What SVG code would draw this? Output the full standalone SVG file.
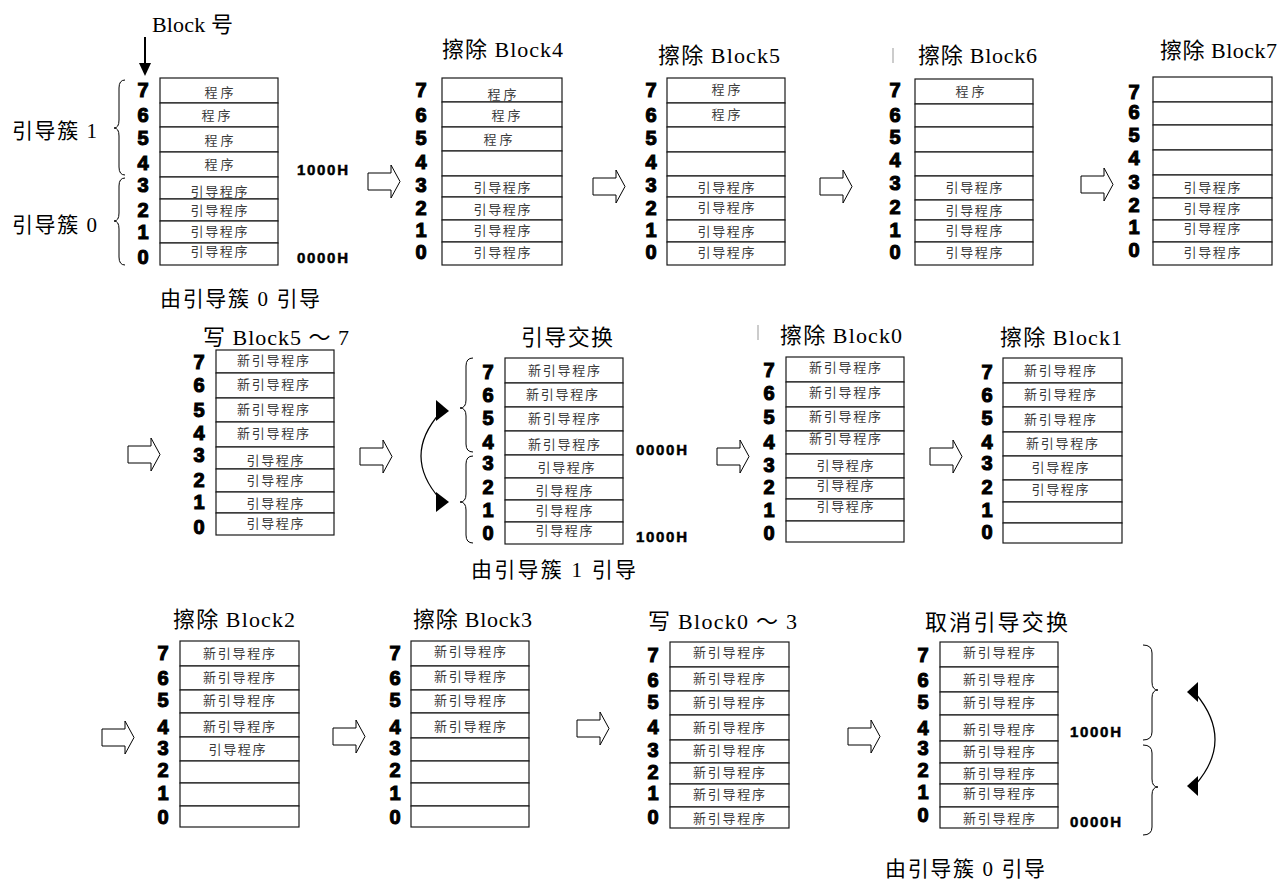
<svg xmlns="http://www.w3.org/2000/svg" width="1283" height="882" viewBox="0 0 1283 882">
<style>
.box{fill:#fff;stroke:#1a1a1a;stroke-width:1.2}
.num{font-family:"Liberation Sans",Arial,sans-serif;font-weight:bold;font-size:20px;text-anchor:middle;fill:#000;stroke:#000;stroke-width:1.1}
.cell{font-family:"Noto Sans CJK SC",sans-serif;font-size:13px;fill:#3a3a3a;text-anchor:middle}
.title{font-family:"Liberation Serif","Noto Sans CJK SC",serif;font-size:22px;fill:#000}
.lbl{font-family:"Liberation Serif","Noto Sans CJK SC",serif;font-size:21px;fill:#000}
.addr{font-family:"Liberation Sans",Arial,sans-serif;font-weight:bold;font-size:15px;fill:#000;stroke:#000;stroke-width:0.5}
.harrow{fill:#fff;stroke:#000;stroke-width:1}
.brace{fill:none;stroke:#000;stroke-width:1}
.curve{fill:none;stroke:#000;stroke-width:1.2}
.tick{stroke:#bbb;stroke-width:1.5}
</style>
<defs>
<path id="ha" class="harrow" d="M0,8 H23 V0 L32,16.5 L23,33 V25 H0 Z"/>
</defs>

<g id="connectors">
<line x1="145" y1="37" x2="145" y2="64" stroke="#000" stroke-width="2"/>
<polygon points="139,63 151,63 145,76" fill="#000"/>
<use href="#ha" x="368" y="165"/>
<use href="#ha" x="593" y="170"/>
<use href="#ha" x="820" y="170"/>
<use href="#ha" x="1081" y="168"/>
<use href="#ha" x="128" y="438"/>
<use href="#ha" x="360" y="440"/>
<use href="#ha" x="717" y="440"/>
<use href="#ha" x="930" y="440"/>
<use href="#ha" x="102" y="721"/>
<use href="#ha" x="333" y="720"/>
<use href="#ha" x="577" y="712"/>
<use href="#ha" x="848" y="720"/>
<path class="curve" d="M440,413 Q402,456 440,499"/>
<polygon points="436,400 449,411 436,421" fill="#000"/>
<polygon points="436,492 449,502 436,512" fill="#000"/>
<path class="curve" d="M1196,694 Q1234,740 1196,784"/>
<polygon points="1198,682 1187,692 1198,702" fill="#000"/>
<polygon points="1198,776 1187,786 1198,796" fill="#000"/>
</g>

<g id="labels">
<text class="title" x="152" y="32" textLength="81">Block 号</text>
<text class="lbl" x="12" y="138" textLength="85">引导簇 1</text>
<text class="lbl" x="12" y="232" textLength="85">引导簇 0</text>
<path class="brace" d="M125,80 Q119,80 119,88 V120 Q119,128 114,128 Q119,128 119,136 V167 Q119,175 125,175"/>
<path class="brace" d="M125,178 Q119,178 119,186 V213 Q119,221 114,221 Q119,221 119,229 V257 Q119,265 125,265"/>
<text class="lbl" x="160" y="306" textLength="160">由引导簇 0 引导</text>
<text class="lbl" x="471" y="577" textLength="165">由引导簇 1 引导</text>
<text class="lbl" x="885" y="876" textLength="160">由引导簇 0 引导</text>
<line class="tick" x1="893" y1="48" x2="893" y2="63"/>
<line class="tick" x1="758" y1="325" x2="758" y2="340"/>
</g>

<g id="d1">
<rect class="box" x="160" y="78" width="118" height="25"/>
<rect class="box" x="160" y="103" width="118" height="24"/>
<rect class="box" x="160" y="127" width="118" height="25"/>
<rect class="box" x="160" y="152" width="118" height="25"/>
<rect class="box" x="160" y="177" width="118" height="22"/>
<rect class="box" x="160" y="199" width="118" height="22"/>
<rect class="box" x="160" y="221" width="118" height="22"/>
<rect class="box" x="160" y="243" width="118" height="22"/>
<text class="cell" x="219" y="97" textLength="29">程序</text>
<text class="cell" x="216" y="120" textLength="29">程序</text>
<text class="cell" x="219" y="145" textLength="29">程序</text>
<text class="cell" x="219" y="169" textLength="29">程序</text>
<text class="cell" x="219" y="196" textLength="57">引导程序</text>
<text class="cell" x="219" y="215" textLength="57">引导程序</text>
<text class="cell" x="219" y="236" textLength="57">引导程序</text>
<text class="cell" x="219" y="256" textLength="57">引导程序</text>
<text class="num" x="143" y="97" textLength="9">7</text>
<text class="num" x="143" y="122" textLength="9">6</text>
<text class="num" x="143" y="145" textLength="9">5</text>
<text class="num" x="143" y="170" textLength="9">4</text>
<text class="num" x="143" y="192" textLength="9">3</text>
<text class="num" x="143" y="217" textLength="9">2</text>
<text class="num" x="143" y="239" textLength="9">1</text>
<text class="num" x="143" y="264" textLength="9">0</text>
<text class="addr" x="297" y="175" textLength="51">1000H</text>
<text class="addr" x="297" y="263" textLength="51">0000H</text>
</g>

<g id="d2">
<text class="title" x="442" y="57" textLength="121">擦除 Block4</text>
<rect class="box" x="442" y="78" width="120" height="24"/>
<rect class="box" x="442" y="102" width="120" height="25"/>
<rect class="box" x="442" y="127" width="120" height="24"/>
<rect class="box" x="442" y="151" width="120" height="25"/>
<rect class="box" x="442" y="176" width="120" height="21"/>
<rect class="box" x="442" y="197" width="120" height="23"/>
<rect class="box" x="442" y="220" width="120" height="22"/>
<rect class="box" x="442" y="242" width="120" height="23"/>
<text class="cell" x="502" y="99" textLength="29">程序</text>
<text class="cell" x="506" y="120" textLength="29">程序</text>
<text class="cell" x="498" y="144" textLength="29">程序</text>
<text class="cell" x="502" y="192" textLength="57">引导程序</text>
<text class="cell" x="502" y="214" textLength="57">引导程序</text>
<text class="cell" x="502" y="235" textLength="57">引导程序</text>
<text class="cell" x="502" y="257" textLength="57">引导程序</text>
<text class="num" x="421" y="97" textLength="9">7</text>
<text class="num" x="421" y="122" textLength="9">6</text>
<text class="num" x="421" y="145" textLength="9">5</text>
<text class="num" x="421" y="169" textLength="9">4</text>
<text class="num" x="421" y="192" textLength="9">3</text>
<text class="num" x="421" y="215" textLength="9">2</text>
<text class="num" x="421" y="237" textLength="9">1</text>
<text class="num" x="421" y="259" textLength="9">0</text>
</g>

<g id="d3">
<text class="title" x="658" y="63" textLength="122">擦除 Block5</text>
<rect class="box" x="667" y="78" width="118" height="25"/>
<rect class="box" x="667" y="103" width="118" height="24"/>
<rect class="box" x="667" y="127" width="118" height="25"/>
<rect class="box" x="667" y="152" width="118" height="24"/>
<rect class="box" x="667" y="176" width="118" height="21"/>
<rect class="box" x="667" y="197" width="118" height="23"/>
<rect class="box" x="667" y="220" width="118" height="22"/>
<rect class="box" x="667" y="242" width="118" height="23"/>
<text class="cell" x="726" y="94" textLength="29">程序</text>
<text class="cell" x="726" y="119" textLength="29">程序</text>
<text class="cell" x="726" y="192" textLength="57">引导程序</text>
<text class="cell" x="726" y="212" textLength="57">引导程序</text>
<text class="cell" x="726" y="236" textLength="57">引导程序</text>
<text class="cell" x="726" y="257" textLength="57">引导程序</text>
<text class="num" x="651" y="97" textLength="9">7</text>
<text class="num" x="651" y="122" textLength="9">6</text>
<text class="num" x="651" y="145" textLength="9">5</text>
<text class="num" x="651" y="169" textLength="9">4</text>
<text class="num" x="651" y="192" textLength="9">3</text>
<text class="num" x="651" y="215" textLength="9">2</text>
<text class="num" x="651" y="237" textLength="9">1</text>
<text class="num" x="651" y="259" textLength="9">0</text>
</g>

<g id="d4">
<text class="title" x="918" y="63" textLength="119">擦除 Block6</text>
<rect class="box" x="915" y="79" width="118" height="25"/>
<rect class="box" x="915" y="104" width="118" height="23"/>
<rect class="box" x="915" y="127" width="118" height="25"/>
<rect class="box" x="915" y="152" width="118" height="24"/>
<rect class="box" x="915" y="176" width="118" height="24"/>
<rect class="box" x="915" y="200" width="118" height="20"/>
<rect class="box" x="915" y="220" width="118" height="22"/>
<rect class="box" x="915" y="242" width="118" height="23"/>
<text class="cell" x="970" y="96" textLength="29">程序</text>
<text class="cell" x="974" y="192" textLength="57">引导程序</text>
<text class="cell" x="974" y="215" textLength="57">引导程序</text>
<text class="cell" x="974" y="235" textLength="57">引导程序</text>
<text class="cell" x="974" y="257" textLength="57">引导程序</text>
<text class="num" x="895" y="97" textLength="9">7</text>
<text class="num" x="895" y="122" textLength="9">6</text>
<text class="num" x="895" y="144" textLength="9">5</text>
<text class="num" x="895" y="167" textLength="9">4</text>
<text class="num" x="895" y="190" textLength="9">3</text>
<text class="num" x="895" y="214" textLength="9">2</text>
<text class="num" x="895" y="237" textLength="9">1</text>
<text class="num" x="895" y="259" textLength="9">0</text>
</g>

<g id="d5">
<text class="title" x="1160" y="58" textLength="117">擦除 Block7</text>
<rect class="box" x="1153" y="77" width="119" height="25"/>
<rect class="box" x="1153" y="102" width="119" height="23"/>
<rect class="box" x="1153" y="125" width="119" height="25"/>
<rect class="box" x="1153" y="150" width="119" height="25"/>
<rect class="box" x="1153" y="175" width="119" height="23"/>
<rect class="box" x="1153" y="198" width="119" height="22"/>
<rect class="box" x="1153" y="220" width="119" height="22"/>
<rect class="box" x="1153" y="242" width="119" height="23"/>
<text class="cell" x="1212" y="192" textLength="57">引导程序</text>
<text class="cell" x="1212" y="213" textLength="57">引导程序</text>
<text class="cell" x="1212" y="233" textLength="57">引导程序</text>
<text class="cell" x="1212" y="257" textLength="57">引导程序</text>
<text class="num" x="1134" y="99" textLength="9">7</text>
<text class="num" x="1134" y="119" textLength="9">6</text>
<text class="num" x="1134" y="142" textLength="9">5</text>
<text class="num" x="1134" y="165" textLength="9">4</text>
<text class="num" x="1134" y="189" textLength="9">3</text>
<text class="num" x="1134" y="212" textLength="9">2</text>
<text class="num" x="1134" y="234" textLength="9">1</text>
<text class="num" x="1134" y="257" textLength="9">0</text>
</g>

<g id="d6">
<text class="title" x="203" y="345" textLength="146">写 Block5 ～ 7</text>
<rect class="box" x="216" y="350" width="118" height="23"/>
<rect class="box" x="216" y="373" width="118" height="25"/>
<rect class="box" x="216" y="398" width="118" height="24"/>
<rect class="box" x="216" y="422" width="118" height="25"/>
<rect class="box" x="216" y="447" width="118" height="22"/>
<rect class="box" x="216" y="469" width="118" height="23"/>
<rect class="box" x="216" y="492" width="118" height="21"/>
<rect class="box" x="216" y="513" width="118" height="22"/>
<text class="cell" x="273" y="365" textLength="72">新引导程序</text>
<text class="cell" x="273" y="389" textLength="72">新引导程序</text>
<text class="cell" x="273" y="414" textLength="72">新引导程序</text>
<text class="cell" x="273" y="438" textLength="72">新引导程序</text>
<text class="cell" x="275" y="465" textLength="57">引导程序</text>
<text class="cell" x="275" y="485" textLength="57">引导程序</text>
<text class="cell" x="275" y="508" textLength="57">引导程序</text>
<text class="cell" x="275" y="528" textLength="57">引导程序</text>
<text class="num" x="199" y="369" textLength="9">7</text>
<text class="num" x="199" y="392" textLength="9">6</text>
<text class="num" x="199" y="417" textLength="9">5</text>
<text class="num" x="199" y="440" textLength="9">4</text>
<text class="num" x="199" y="462" textLength="9">3</text>
<text class="num" x="199" y="487" textLength="9">2</text>
<text class="num" x="199" y="509" textLength="9">1</text>
<text class="num" x="199" y="534" textLength="9">0</text>
</g>

<g id="d7">
<text class="title" x="521" y="345" textLength="92">引导交换</text>
<path class="brace" d="M473,358 Q466,358 466,366 V400 Q466,408 460,408 Q466,408 466,416 V444 Q466,452 473,452"/>
<path class="brace" d="M473,456 Q466,456 466,464 V494 Q466,502 460,502 Q466,502 466,510 V535 Q466,543 473,543"/>
<rect class="box" x="505" y="358" width="118" height="25"/>
<rect class="box" x="505" y="383" width="118" height="24"/>
<rect class="box" x="505" y="407" width="118" height="24"/>
<rect class="box" x="505" y="431" width="118" height="24"/>
<rect class="box" x="505" y="455" width="118" height="23"/>
<rect class="box" x="505" y="478" width="118" height="22"/>
<rect class="box" x="505" y="500" width="118" height="22"/>
<rect class="box" x="505" y="522" width="118" height="22"/>
<text class="cell" x="564" y="375" textLength="72">新引导程序</text>
<text class="cell" x="562" y="399" textLength="72">新引导程序</text>
<text class="cell" x="564" y="423" textLength="72">新引导程序</text>
<text class="cell" x="564" y="449" textLength="72">新引导程序</text>
<text class="cell" x="566" y="472" textLength="57">引导程序</text>
<text class="cell" x="564" y="495" textLength="57">引导程序</text>
<text class="cell" x="564" y="515" textLength="57">引导程序</text>
<text class="cell" x="564" y="535" textLength="57">引导程序</text>
<text class="num" x="488" y="379" textLength="9">7</text>
<text class="num" x="488" y="402" textLength="9">6</text>
<text class="num" x="488" y="425" textLength="9">5</text>
<text class="num" x="488" y="449" textLength="9">4</text>
<text class="num" x="488" y="470" textLength="9">3</text>
<text class="num" x="488" y="494" textLength="9">2</text>
<text class="num" x="488" y="517" textLength="9">1</text>
<text class="num" x="488" y="540" textLength="9">0</text>
<text class="addr" x="636" y="455" textLength="51">0000H</text>
<text class="addr" x="636" y="542" textLength="51">1000H</text>
</g>

<g id="d8">
<text class="title" x="780" y="343" textLength="122">擦除 Block0</text>
<rect class="box" x="786" y="357" width="118" height="25"/>
<rect class="box" x="786" y="382" width="118" height="25"/>
<rect class="box" x="786" y="407" width="118" height="24"/>
<rect class="box" x="786" y="431" width="118" height="23"/>
<rect class="box" x="786" y="454" width="118" height="24"/>
<rect class="box" x="786" y="478" width="118" height="21"/>
<rect class="box" x="786" y="499" width="118" height="22"/>
<rect class="box" x="786" y="521" width="118" height="21"/>
<text class="cell" x="845" y="372" textLength="72">新引导程序</text>
<text class="cell" x="845" y="397" textLength="72">新引导程序</text>
<text class="cell" x="845" y="421" textLength="72">新引导程序</text>
<text class="cell" x="845" y="443" textLength="72">新引导程序</text>
<text class="cell" x="845" y="470" textLength="57">引导程序</text>
<text class="cell" x="845" y="490" textLength="57">引导程序</text>
<text class="cell" x="845" y="511" textLength="57">引导程序</text>
<text class="num" x="769" y="377" textLength="9">7</text>
<text class="num" x="769" y="400" textLength="9">6</text>
<text class="num" x="769" y="424" textLength="9">5</text>
<text class="num" x="769" y="449" textLength="9">4</text>
<text class="num" x="769" y="472" textLength="9">3</text>
<text class="num" x="769" y="494" textLength="9">2</text>
<text class="num" x="769" y="517" textLength="9">1</text>
<text class="num" x="769" y="540" textLength="9">0</text>
</g>

<g id="d9">
<text class="title" x="1000" y="345" textLength="122">擦除 Block1</text>
<rect class="box" x="1003" y="358" width="119" height="25"/>
<rect class="box" x="1003" y="383" width="119" height="24"/>
<rect class="box" x="1003" y="407" width="119" height="25"/>
<rect class="box" x="1003" y="432" width="119" height="24"/>
<rect class="box" x="1003" y="456" width="119" height="24"/>
<rect class="box" x="1003" y="480" width="119" height="22"/>
<rect class="box" x="1003" y="502" width="119" height="21"/>
<rect class="box" x="1003" y="523" width="119" height="20"/>
<text class="cell" x="1060" y="375" textLength="72">新引导程序</text>
<text class="cell" x="1060" y="399" textLength="72">新引导程序</text>
<text class="cell" x="1060" y="424" textLength="72">新引导程序</text>
<text class="cell" x="1062" y="448" textLength="72">新引导程序</text>
<text class="cell" x="1060" y="472" textLength="57">引导程序</text>
<text class="cell" x="1060" y="494" textLength="57">引导程序</text>
<text class="num" x="987" y="379" textLength="9">7</text>
<text class="num" x="987" y="402" textLength="9">6</text>
<text class="num" x="987" y="425" textLength="9">5</text>
<text class="num" x="987" y="449" textLength="9">4</text>
<text class="num" x="987" y="470" textLength="9">3</text>
<text class="num" x="987" y="494" textLength="9">2</text>
<text class="num" x="987" y="517" textLength="9">1</text>
<text class="num" x="987" y="539" textLength="9">0</text>
</g>

<g id="d10">
<text class="title" x="173" y="627" textLength="122">擦除 Block2</text>
<rect class="box" x="180" y="641" width="119" height="25"/>
<rect class="box" x="180" y="666" width="119" height="24"/>
<rect class="box" x="180" y="690" width="119" height="23"/>
<rect class="box" x="180" y="713" width="119" height="24"/>
<rect class="box" x="180" y="737" width="119" height="24"/>
<rect class="box" x="180" y="761" width="119" height="22"/>
<rect class="box" x="180" y="783" width="119" height="23"/>
<rect class="box" x="180" y="806" width="119" height="21"/>
<text class="cell" x="239" y="658" textLength="72">新引导程序</text>
<text class="cell" x="239" y="682" textLength="72">新引导程序</text>
<text class="cell" x="239" y="705" textLength="72">新引导程序</text>
<text class="cell" x="239" y="731" textLength="72">新引导程序</text>
<text class="cell" x="237" y="754" textLength="57">引导程序</text>
<text class="num" x="163" y="660" textLength="9">7</text>
<text class="num" x="163" y="685" textLength="9">6</text>
<text class="num" x="163" y="707" textLength="9">5</text>
<text class="num" x="163" y="734" textLength="9">4</text>
<text class="num" x="163" y="755" textLength="9">3</text>
<text class="num" x="163" y="777" textLength="9">2</text>
<text class="num" x="163" y="800" textLength="9">1</text>
<text class="num" x="163" y="824" textLength="9">0</text>
</g>

<g id="d11">
<text class="title" x="413" y="627" textLength="119">擦除 Block3</text>
<rect class="box" x="411" y="641" width="118" height="25"/>
<rect class="box" x="411" y="666" width="118" height="24"/>
<rect class="box" x="411" y="690" width="118" height="23"/>
<rect class="box" x="411" y="713" width="118" height="25"/>
<rect class="box" x="411" y="738" width="118" height="23"/>
<rect class="box" x="411" y="761" width="118" height="22"/>
<rect class="box" x="411" y="783" width="118" height="23"/>
<rect class="box" x="411" y="806" width="118" height="21"/>
<text class="cell" x="470" y="656" textLength="72">新引导程序</text>
<text class="cell" x="470" y="681" textLength="72">新引导程序</text>
<text class="cell" x="470" y="705" textLength="72">新引导程序</text>
<text class="cell" x="470" y="731" textLength="72">新引导程序</text>
<text class="num" x="395" y="660" textLength="9">7</text>
<text class="num" x="395" y="685" textLength="9">6</text>
<text class="num" x="395" y="707" textLength="9">5</text>
<text class="num" x="395" y="734" textLength="9">4</text>
<text class="num" x="395" y="755" textLength="9">3</text>
<text class="num" x="395" y="777" textLength="9">2</text>
<text class="num" x="395" y="800" textLength="9">1</text>
<text class="num" x="395" y="824" textLength="9">0</text>
</g>

<g id="d12">
<text class="title" x="648" y="629" textLength="149">写 Block0 ～ 3</text>
<rect class="box" x="670" y="642" width="119" height="25"/>
<rect class="box" x="670" y="667" width="119" height="24"/>
<rect class="box" x="670" y="691" width="119" height="24"/>
<rect class="box" x="670" y="715" width="119" height="25"/>
<rect class="box" x="670" y="740" width="119" height="23"/>
<rect class="box" x="670" y="763" width="119" height="21"/>
<rect class="box" x="670" y="784" width="119" height="23"/>
<rect class="box" x="670" y="807" width="119" height="21"/>
<text class="cell" x="729" y="657" textLength="72">新引导程序</text>
<text class="cell" x="729" y="683" textLength="72">新引导程序</text>
<text class="cell" x="729" y="707" textLength="72">新引导程序</text>
<text class="cell" x="729" y="732" textLength="72">新引导程序</text>
<text class="cell" x="729" y="755" textLength="72">新引导程序</text>
<text class="cell" x="729" y="777" textLength="72">新引导程序</text>
<text class="cell" x="729" y="799" textLength="72">新引导程序</text>
<text class="cell" x="729" y="823" textLength="72">新引导程序</text>
<text class="num" x="653" y="662" textLength="9">7</text>
<text class="num" x="653" y="687" textLength="9">6</text>
<text class="num" x="653" y="709" textLength="9">5</text>
<text class="num" x="653" y="734" textLength="9">4</text>
<text class="num" x="653" y="757" textLength="9">3</text>
<text class="num" x="653" y="779" textLength="9">2</text>
<text class="num" x="653" y="800" textLength="9">1</text>
<text class="num" x="653" y="824" textLength="9">0</text>
</g>

<g id="d13">
<text class="title" x="925" y="630" textLength="143">取消引导交换</text>
<rect class="box" x="940" y="642" width="118" height="25"/>
<rect class="box" x="940" y="667" width="118" height="25"/>
<rect class="box" x="940" y="692" width="118" height="23"/>
<rect class="box" x="940" y="715" width="118" height="26"/>
<rect class="box" x="940" y="741" width="118" height="22"/>
<rect class="box" x="940" y="763" width="118" height="21"/>
<rect class="box" x="940" y="784" width="118" height="23"/>
<rect class="box" x="940" y="807" width="118" height="21"/>
<text class="cell" x="999" y="657" textLength="72">新引导程序</text>
<text class="cell" x="999" y="684" textLength="72">新引导程序</text>
<text class="cell" x="999" y="707" textLength="72">新引导程序</text>
<text class="cell" x="999" y="734" textLength="72">新引导程序</text>
<text class="cell" x="999" y="756" textLength="72">新引导程序</text>
<text class="cell" x="999" y="778" textLength="72">新引导程序</text>
<text class="cell" x="999" y="798" textLength="72">新引导程序</text>
<text class="cell" x="999" y="823" textLength="72">新引导程序</text>
<text class="num" x="923" y="662" textLength="9">7</text>
<text class="num" x="923" y="687" textLength="9">6</text>
<text class="num" x="923" y="709" textLength="9">5</text>
<text class="num" x="923" y="735" textLength="9">4</text>
<text class="num" x="923" y="755" textLength="9">3</text>
<text class="num" x="923" y="777" textLength="9">2</text>
<text class="num" x="923" y="799" textLength="9">1</text>
<text class="num" x="923" y="822" textLength="9">0</text>
<text class="addr" x="1070" y="737" textLength="51">1000H</text>
<text class="addr" x="1070" y="827" textLength="51">0000H</text>
<path class="brace" d="M1143,645 Q1152,645 1152,653 V682 Q1152,690 1158,690 Q1152,690 1152,698 V732 Q1152,740 1143,740"/>
<path class="brace" d="M1143,745 Q1152,745 1152,753 V779 Q1152,787 1158,787 Q1152,787 1152,795 V827 Q1152,835 1143,835"/>
</g>
</svg>
